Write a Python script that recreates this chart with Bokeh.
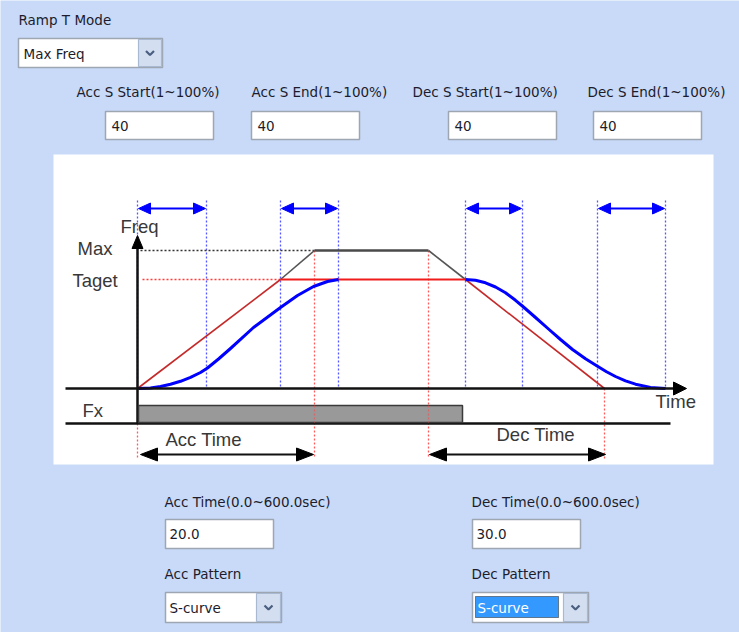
from bokeh.plotting import figure
from bokeh.models import Range1d
from bokeh.core.properties import value
from bokeh.embed import file_html
from bokeh.resources import INLINE

# ---------------- content (texts and values) ----------------
ramp_mode_label = "Ramp T Mode"
ramp_mode_value = "Max Freq"
s_labels = ["Acc S Start(1~100%)", "Acc S End(1~100%)", "Dec S Start(1~100%)", "Dec S End(1~100%)"]
s_values = ["40", "40", "40", "40"]
time_labels = ["Acc Time(0.0~600.0sec)", "Dec Time(0.0~600.0sec)"]
time_values = ["20.0", "30.0"]
pattern_labels = ["Acc Pattern", "Dec Pattern"]
pattern_values = ["S-curve", "S-curve"]

diag_texts = ["Freq", "Max", "Taget", "Fx", "Time", "Acc Time", "Dec Time"]

# ---------------- diagram geometry ----------------
origin_x = 137
base_y = 388          # zero frequency
max_y = 250           # Max frequency level
target_y = 279        # target frequency level
acc_target_x = 280    # linear ramp reaches target
acc_end_x = 314       # linear ramp reaches max (Acc Time end)
dec_start_x = 428     # decel start (from max)
dec_target_x = 465    # decel line crosses target
dec_end_x = 604       # decel line reaches zero (Dec Time end)
s_marks_x = [137, 206, 280, 338, 465, 522, 597, 665]   # S-curve region bounds
fx_bar_end_x = 462

# blue S-curve (acceleration) points
acc_curve_x = [138, 150, 160, 170, 180, 190, 200, 207, 218, 230, 253, 280, 297, 313, 327, 338]
acc_curve_y = [388, 387.4, 386, 383.8, 380.8, 376.8, 372, 367.5, 358.5, 348, 327, 307, 295, 286, 281, 279]
# blue S-curve (deceleration) points
dec_curve_x = [465, 475, 485, 495, 505, 515, 523, 535, 548, 560, 572, 585, 597, 606, 615, 625, 635, 650, 665]
dec_curve_y = [279, 279.8, 282.3, 286.5, 292.3, 299.8, 306.5, 317, 328.5, 339, 349, 358.3, 365.8, 371.2, 376, 380.4, 383.7, 386.9, 388]

# ---------------- figure ----------------
BG = "#C8DAF8"
p = figure(width=739, height=632, output_backend="svg", toolbar_location=None,
           x_range=Range1d(0, 739), y_range=Range1d(632, 0),
           x_axis_type=None, y_axis_type=None, min_border=0)
p.background_fill_color = BG
p.border_fill_color = BG
p.outline_line_color = None
p.grid.visible = False

UI_FONT = value("DejaVu Sans")
UI_SIZE = "13.5px"
UI_COLOR = "#1c1c2c"
D_FONT = value("Liberation Sans")
D_SIZE = "18.5px"
D_COLOR = "#383838"


def ui_text(xs, ys, texts, color=UI_COLOR):
    p.text(x=xs, y=ys, text=texts, text_font=UI_FONT, text_font_size=UI_SIZE,
           text_color=color, text_align="left", text_baseline="middle")


def text_box(x0, y0, w, h):
    p.quad(left=[x0], right=[x0 + w], top=[y0], bottom=[y0 + h],
           fill_color="white", line_color="#9EA6B2", line_width=1.5)


def dropdown(x0, y0, w, h, bw):
    p.quad(left=[x0], right=[x0 + w], top=[y0], bottom=[y0 + h],
           fill_color="white", line_color="#9EA6B2", line_width=1.5)
    p.quad(left=[x0 + w - bw], right=[x0 + w - 1], top=[y0 + 1], bottom=[y0 + h - 1],
           fill_color="#D3DFF1", line_color="#A9B9D2", line_width=1.2)
    cx = x0 + w - bw / 2 - 0.5
    cy = y0 + h / 2
    p.line([cx - 4, cx, cx + 4], [cy - 2, cy + 2, cy - 2], line_color="#4A5E80", line_width=2.2)


heads_x, heads_y, heads_c = [], [], []


def head(tx, ty, dx, dy, L, W, color):
    bx, by = tx - L * dx, ty - L * dy
    px_, py_ = -dy, dx
    heads_x.append([tx, bx + W * px_, bx - W * px_])
    heads_y.append([ty, by + W * py_, by - W * py_])
    heads_c.append(color)


# ---------------- top UI ----------------
ui_text([18], [19], [ramp_mode_label])
dropdown(18, 38, 144, 29, 24)
ui_text([23], [53], [ramp_mode_value])

s_label_x = [76, 251, 412, 587]
s_box_x = [105, 251, 448, 593]
ui_text(s_label_x, [91.5] * 4, s_labels)
for bx in s_box_x:
    text_box(bx, 111, 108, 28)
ui_text([bx + 6 for bx in s_box_x], [125] * 4, s_values)

# ---------------- diagram panel ----------------
p.quad(left=[53], right=[713], top=[154], bottom=[464], fill_color="white", line_color=None)

# blue dotted S-curve bounds
p.segment(x0=s_marks_x, y0=[200] * len(s_marks_x), x1=s_marks_x, y1=[base_y] * len(s_marks_x),
          line_color="#3A3AFF", line_width=1.3, line_dash="2 2", line_alpha=0.85)
# max / target dotted levels
p.line([origin_x + 3, acc_end_x], [max_y, max_y], line_color="#333333", line_width=1.3, line_dash="2 2")
p.line([origin_x + 5, acc_target_x], [target_y, target_y], line_color="#FF3B3B", line_width=1.3, line_dash="2 2")

# red dotted time marks
red_x = [acc_end_x, dec_start_x, dec_end_x, origin_x]
red_top = [max_y, max_y, base_y, 423]
p.segment(x0=red_x, y0=red_top, x1=red_x, y1=[458] * 4,
          line_color="#FF4A4A", line_width=1.3, line_dash="2 2", line_alpha=0.9)

# gray max-frequency path
p.line([acc_target_x, acc_end_x], [target_y, max_y], line_color="#555555", line_width=1.6)
p.line([acc_end_x, dec_start_x], [max_y, max_y], line_color="#4A4A4A", line_width=2.4)
p.line([dec_start_x, dec_target_x], [max_y, target_y], line_color="#555555", line_width=1.6)

# red linear target path
p.line([origin_x, acc_target_x], [base_y, target_y], line_color="#C42A2A", line_width=1.6)
p.line([acc_target_x, dec_target_x], [target_y, target_y], line_color="#F01C1C", line_width=1.8)
p.line([dec_target_x, dec_end_x], [target_y, base_y], line_color="#C42A2A", line_width=1.6)

# blue S-curves
p.line(acc_curve_x, acc_curve_y, line_color="#0000FF", line_width=3, line_join="round")
p.line(dec_curve_x, dec_curve_y, line_color="#0000FF", line_width=3, line_join="round")

# axes
p.line([65, 676], [base_y, base_y], line_color="#111111", line_width=2.5)
head(686, base_y, 1, 0, 13, 6.5, "#000000")
p.line([origin_x, origin_x], [base_y + 35, 245], line_color="#111111", line_width=2.5)
head(origin_x, 235, 0, -1, 13, 5.5, "#000000")
p.line([65, 670], [423, 423], line_color="#111111", line_width=2.5)

# Fx bar
p.quad(left=[origin_x + 1], right=[fx_bar_end_x], top=[405], bottom=[422],
       fill_color="#999999", line_color="#3A3A3A", line_width=1.5)
p.segment(x0=[acc_end_x, dec_start_x], y0=[405, 405], x1=[acc_end_x, dec_start_x], y1=[422, 422],
          line_color="#FF4A4A", line_width=1.3, line_dash="2 2", line_alpha=0.6)

# blue double arrows over S regions
pairs = [(s_marks_x[0], s_marks_x[1]), (s_marks_x[2], s_marks_x[3]),
         (s_marks_x[4], s_marks_x[5]), (s_marks_x[6], s_marks_x[7])]
for a, b in pairs:
    p.line([a + 8, b - 8], [208, 208], line_color="#0000FF", line_width=2)
    head(a + 1, 208, -1, 0, 12, 5.5, "#0000FF")
    head(b - 1, 208, 1, 0, 12, 5.5, "#0000FF")

# black time arrows
for a, b in [(origin_x + 3, acc_end_x - 1), (dec_start_x + 1, dec_end_x + 1)]:
    p.line([a + 10, b - 10], [454, 454], line_color="#111111", line_width=2)
    head(a, 454, -1, 0, 17, 6.5, "#000000")
    head(b, 454, 1, 0, 17, 6.5, "#000000")

p.patches(heads_x, heads_y, fill_color=heads_c, line_color=heads_c, line_width=1)

# diagram texts (vertical centres of the capitals)
p.text(x=[120, 77, 72, 82, 655, 165, 496], y=[226, 248, 280, 410, 401, 439, 434],
       text=diag_texts, text_font=D_FONT, text_font_size=D_SIZE, text_color=D_COLOR,
       text_align="left", text_baseline="middle")

# ---------------- bottom UI ----------------
blk_x = [164, 471]
ui_text(blk_x, [501, 501], time_labels)
for bx in blk_x:
    text_box(bx + 1, 519, 108, 29)
ui_text([bx + 5 for bx in blk_x], [533.5, 533.5], time_values)
ui_text(blk_x, [573, 573], pattern_labels)
for bx in blk_x:
    dropdown(bx + 1, 592, 116, 30, 25)
# selected (focused) entry in Dec Pattern
p.quad(left=[blk_x[1] + 4], right=[blk_x[1] + 87], top=[596], bottom=[617],
       fill_color="#3399FF", line_color="#222222", line_width=1, line_dash="1 1")
ui_text([blk_x[0] + 5], [607.5], [pattern_values[0]])
ui_text([blk_x[1] + 6], [607.5], [pattern_values[1]], color="white")

open("out.html", "w").write(file_html(p, INLINE))
